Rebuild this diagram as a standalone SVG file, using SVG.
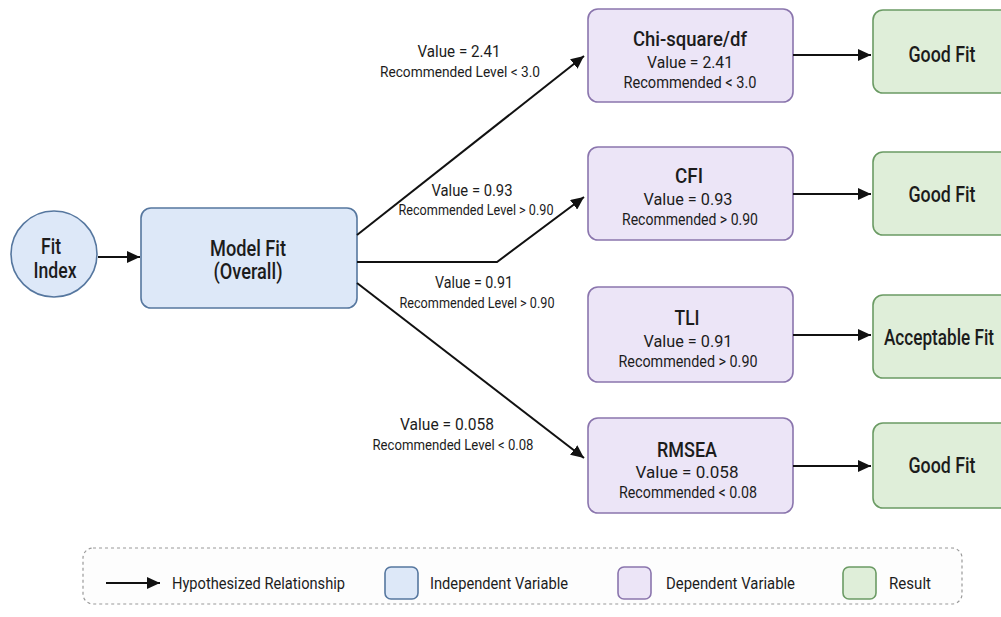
<svg xmlns="http://www.w3.org/2000/svg" width="1001" height="617" viewBox="0 0 1001 617">
<defs>
<marker id="arr" markerUnits="userSpaceOnUse" markerWidth="14" markerHeight="12" refX="13" refY="6" orient="auto">
<path d="M0,0 L13,6 L0,12 z" fill="#111"/>
</marker>
<style>
text{font-family:Roboto,"Liberation Sans",sans-serif;fill:#1c1c1c;text-anchor:middle}
.n{font-size:21.5px;font-weight:500}
.t{font-size:19.5px;font-weight:500}
.v{font-size:17px}
.r{font-size:16px}
.el1{font-size:16.5px}
.el2{font-size:14.5px}
.g{font-size:21.5px;font-weight:500}
.lg{font-size:17px;text-anchor:start}
.blue{fill:#dde8f8;stroke:#56779f;stroke-width:1.6}
.purple{fill:#ece5f7;stroke:#8a75ad;stroke-width:1.6}
.green{fill:#dfeed9;stroke:#6b9b64;stroke-width:1.6}
.c{fill:none;stroke:#111;stroke-width:2;marker-end:url(#arr)}
</style>
</defs>
<rect width="1001" height="617" fill="#ffffff"/>

<g id="fit-index">
<circle class="blue" cx="54" cy="254" r="43"/>
<text class="n" x="51" y="254" textLength="20" lengthAdjust="spacingAndGlyphs">Fit</text>
<text class="n" x="55" y="278" textLength="43" lengthAdjust="spacingAndGlyphs">Index</text>
</g>

<g id="model-fit">
<rect class="blue" x="141" y="208" width="216" height="100" rx="10"/>
<text class="n" x="248" y="256" textLength="76" lengthAdjust="spacingAndGlyphs">Model Fit</text>
<text class="n" x="248" y="279" textLength="69" lengthAdjust="spacingAndGlyphs">(Overall)</text>
</g>

<g id="chi-square">
<rect class="purple" x="588" y="9" width="205" height="93" rx="10"/>
<text class="t" x="690" y="46" textLength="114" lengthAdjust="spacingAndGlyphs">Chi-square/df</text>
<text class="v" x="690" y="68" textLength="86" lengthAdjust="spacingAndGlyphs">Value = 2.41</text>
<text class="r" x="690" y="88" textLength="133" lengthAdjust="spacingAndGlyphs">Recommended &lt; 3.0</text>
</g>

<g id="cfi">
<rect class="purple" x="588" y="147" width="205" height="93" rx="10"/>
<text class="t" x="689" y="183" textLength="28" lengthAdjust="spacingAndGlyphs">CFI</text>
<text class="v" x="688" y="205" textLength="89" lengthAdjust="spacingAndGlyphs">Value = 0.93</text>
<text class="r" x="690" y="225" textLength="136" lengthAdjust="spacingAndGlyphs">Recommended &gt; 0.90</text>
</g>

<g id="tli">
<rect class="purple" x="588" y="287" width="205" height="95" rx="10"/>
<text class="t" x="687" y="325" textLength="25" lengthAdjust="spacingAndGlyphs">TLI</text>
<text class="v" x="688" y="347" textLength="89" lengthAdjust="spacingAndGlyphs">Value = 0.91</text>
<text class="r" x="688" y="367" textLength="139" lengthAdjust="spacingAndGlyphs">Recommended &gt; 0.90</text>
</g>

<g id="rmsea">
<rect class="purple" x="588" y="418" width="205" height="95" rx="10"/>
<text class="t" x="687" y="457" textLength="60" lengthAdjust="spacingAndGlyphs">RMSEA</text>
<text class="v" x="687" y="478" textLength="103" lengthAdjust="spacingAndGlyphs">Value = 0.058</text>
<text class="r" x="688" y="498" textLength="138" lengthAdjust="spacingAndGlyphs">Recommended &lt; 0.08</text>
</g>

<g id="result-chi">
<rect class="green" x="873" y="10" width="140" height="83" rx="10"/>
<text class="g" x="942" y="62" textLength="67" lengthAdjust="spacingAndGlyphs">Good Fit</text>
</g>
<g id="result-cfi">
<rect class="green" x="873" y="152" width="140" height="83" rx="10"/>
<text class="g" x="942" y="202" textLength="67" lengthAdjust="spacingAndGlyphs">Good Fit</text>
</g>
<g id="result-tli">
<rect class="green" x="873" y="295" width="140" height="83" rx="10"/>
<text class="g" x="939" y="345" textLength="110" lengthAdjust="spacingAndGlyphs">Acceptable Fit</text>
</g>
<g id="result-rmsea">
<rect class="green" x="873" y="423" width="140" height="85" rx="10"/>
<text class="g" x="942" y="473" textLength="67" lengthAdjust="spacingAndGlyphs">Good Fit</text>
</g>

<g id="connectors">
<line class="c" x1="98" y1="257" x2="140" y2="257"/>
<line class="c" x1="357" y1="235" x2="584" y2="56"/>
<polyline class="c" points="357,262 497,262 584,197"/>
<line class="c" x1="357" y1="283" x2="584" y2="458"/>
<line class="c" x1="793" y1="55" x2="871" y2="55"/>
<line class="c" x1="793" y1="194" x2="871" y2="194"/>
<line class="c" x1="793" y1="335" x2="871" y2="335"/>
<line class="c" x1="793" y1="466" x2="871" y2="466"/>
<text class="el1" x="459" y="57" textLength="83" lengthAdjust="spacingAndGlyphs">Value = 2.41</text>
<text class="el2" x="460" y="77" textLength="160" lengthAdjust="spacingAndGlyphs">Recommended Level &lt; 3.0</text>
<text class="el1" x="472" y="196" textLength="81" lengthAdjust="spacingAndGlyphs">Value = 0.93</text>
<text class="el2" x="476" y="215" textLength="155" lengthAdjust="spacingAndGlyphs">Recommended Level &gt; 0.90</text>
<text class="el1" x="474" y="288" textLength="78" lengthAdjust="spacingAndGlyphs">Value = 0.91</text>
<text class="el2" x="477" y="308" textLength="155" lengthAdjust="spacingAndGlyphs">Recommended Level &gt; 0.90</text>
<text class="el1" x="447" y="430" textLength="94" lengthAdjust="spacingAndGlyphs">Value = 0.058</text>
<text class="el2" x="453" y="450" textLength="161" lengthAdjust="spacingAndGlyphs">Recommended Level &lt; 0.08</text>
</g>

<g id="legend">
<rect x="83" y="548" width="879" height="56" rx="10" fill="#fdfdfd" stroke="#9a9a9a" stroke-width="1.2" stroke-dasharray="3,3"/>
<line class="c" x1="106" y1="583" x2="160" y2="583"/>
<text class="lg" x="172" y="589" textLength="173" lengthAdjust="spacingAndGlyphs">Hypothesized Relationship</text>
<rect class="blue" x="385" y="567" width="33" height="32" rx="6"/>
<text class="lg" x="430" y="589" textLength="138" lengthAdjust="spacingAndGlyphs">Independent Variable</text>
<rect class="purple" x="618" y="567" width="33" height="32" rx="6"/>
<text class="lg" x="666" y="589" textLength="129" lengthAdjust="spacingAndGlyphs">Dependent Variable</text>
<rect class="green" x="843" y="567" width="33" height="32" rx="6"/>
<text class="lg" x="889" y="589" textLength="42" lengthAdjust="spacingAndGlyphs">Result</text>
</g>
</svg>
